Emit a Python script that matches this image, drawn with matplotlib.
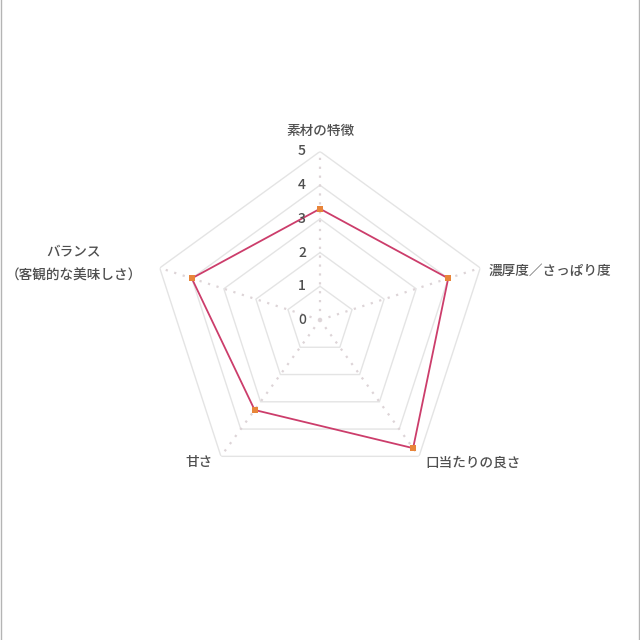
import numpy as np
import matplotlib
matplotlib.use("Agg")
import matplotlib.pyplot as plt
from matplotlib.lines import Line2D

plt.rcParams['font.family'] = ['Noto Sans CJK JP', 'DejaVu Sans']

categories = ["素材の特徴", "濃厚度／さっぱり度", "口当たりの良さ", "甘さ",
              "バランス\n（客観的な美味しさ）"]
values = [3.3, 4.0, 4.7, 3.3, 4.0]
ticks = [0, 1, 2, 3, 4, 5]

TEXT = "#4f4f4f"
n = len(categories)
theta = np.arange(n) * 2 * np.pi / n

fig = plt.figure(figsize=(6.4, 6.4), dpi=100)
ax = fig.add_axes([0.2367, 0.2367, 0.5266, 0.5266], projection="polar")
ax.set_theta_offset(np.pi / 2)
ax.set_theta_direction(-1)
ax.set_ylim(0, 5)
ax.axis("off")

# rings
closed = np.append(theta, theta[0])
for k in ticks[1:]:
    ax.plot(closed, [k] * (n + 1), color="#e4e4e4", lw=1.0, zorder=1)
# spokes (dotted)
for t in theta:
    ax.plot([t, t], [0, 5], color="#ddd4d7", lw=1.6, ls=(0, (1, 3)), zorder=1)

# data
ax.plot(closed, values + values[:1], color="#cc3d6b", lw=1.3, zorder=3)
ax.plot(theta, values, ls="none", marker="s", ms=3.8, mew=0, color="#e8853a", zorder=4)

# tick labels on top spoke
for k in ticks:
    ax.annotate(str(k), xy=(0, k), xytext=(-18, 0), textcoords="offset pixels",
                ha="center", va="center", fontsize=10, color=TEXT, fontweight="medium")

# category labels
offsets = [((0, 21), "center", "center"),
           ((8, -3), "left", "center"),
           ((6, -6), "left", "center"),
           ((-8, -6), "right", "center"),
           ((-18, 4), "right", "center")]
for t, lab, (off, ha, va) in zip(theta, categories, offsets):
    ax.annotate(lab, xy=(t, 5), xytext=off, textcoords="offset pixels",
                ha=ha, va=va, fontsize=9.8, color=TEXT, multialignment="center",
                linespacing=1.9, fontweight="medium")

fig.add_artist(Line2D([0.0008, 0.0008], [0, 1], transform=fig.transFigure,
                      color="#b4b4b4", lw=1))
fig.add_artist(Line2D([0.9984, 0.9984], [0, 1], transform=fig.transFigure,
                      color="#b4b4b4", lw=1))

fig.savefig("out.png", dpi=100, facecolor="white")
